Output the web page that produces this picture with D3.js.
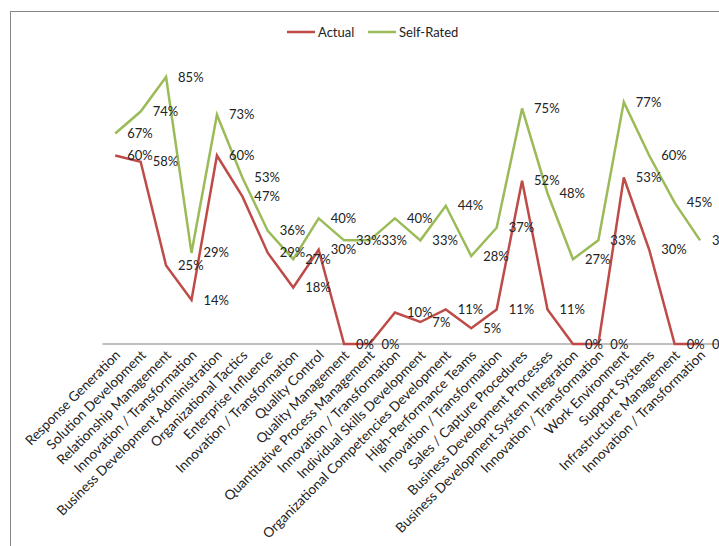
<!DOCTYPE html>
<html>
<head>
<meta charset="utf-8">
<script src="https://cdn.jsdelivr.net/npm/d3@7"></script>
<style>
  body { margin: 0; background: #fff; }
  svg { display: block; font-family: Lato, "Noto Sans", sans-serif; }
</style>
</head>
<body>
<script>
var categories = [
  "Response Generation", "Solution Development", "Relationship Management",
  "Innovation / Transformation", "Business Development Administration",
  "Organizational Tactics", "Enterprise Influence", "Innovation / Transformation",
  "Quality Control", "Quality Management", "Quantitative Process Management",
  "Innovation / Transformation", "Individual Skills Development",
  "Organizational Competencies Development", "High-Performance Teams",
  "Innovation / Transformation", "Sales / Capture Procedures",
  "Business Development Processes", "Business Development System Integration",
  "Innovation / Transformation", "Work Environment", "Support Systems",
  "Infrastructure Management", "Innovation / Transformation"
];
var actual = [60, 58, 25, 14, 60, 47, 29, 18, 30, 0, 0, 10, 7, 11, 5, 11, 52, 11, 0, 0, 53, 30, 0, 0];
var selfRated = [67, 74, 85, 29, 73, 53, 36, 27, 40, 33, 33, 40, 33, 44, 28, 37, 75, 48, 27, 33, 77, 60, 45, 33];
var seriesNames = ["Actual", "Self-Rated"];
var seriesColors = ["#be4b48", "#9bbb59"];

var width = 719, height = 546;

var svg = d3.select("body").append("svg")
    .attr("width", width)
    .attr("height", height);

// chart frame (runs off the right and bottom edges)
svg.append("rect")
    .attr("x", 10.5).attr("y", 11.5)
    .attr("width", 730).attr("height", 560)
    .attr("fill", "none")
    .attr("stroke", "#868686");

var idx = categories.map(function(d, i) { return i; });

var x = d3.scaleBand()
    .domain(idx)
    .range([102.5, 712.8]);

var y = d3.scaleLinear()
    .domain([0, 85])
    .range([344, 77]);

var cx = function(i) { return x(i) + x.bandwidth() / 2; };

// category axis
var xAxis = d3.axisBottom(x)
    .tickSize(0)
    .tickFormat(function(i) { return categories[i]; });

var gx = svg.append("g")
    .attr("transform", "translate(0,344)")
    .call(xAxis);
gx.select(".domain")
    .attr("d", "M102.5,0H719")
    .attr("stroke", "#bfbfbf")
    .attr("stroke-width", 2);
gx.selectAll("text")
    .attr("font-family", "Lato, 'Noto Sans', sans-serif")
    .attr("font-size", 13.6)
    .attr("fill", "#222")
    .attr("text-anchor", "end")
    .attr("dy", null)
    .attr("y", 0)
    .attr("transform", "translate(6,12) rotate(-45)");

var series = [actual, selfRated];

var line = d3.line()
    .x(function(d, i) { return cx(i); })
    .y(function(d) { return y(d); });

series.forEach(function(vals, s) {
  svg.append("path")
      .datum(vals)
      .attr("fill", "none")
      .attr("stroke", seriesColors[s])
      .attr("stroke-width", 2.5)
      .attr("stroke-linejoin", "miter")
      .attr("d", line);
});

series.forEach(function(vals, s) {
  svg.append("g").selectAll("text")
      .data(vals)
      .join("text")
      .attr("x", function(d, i) { return cx(i) + 12; })
      .attr("y", function(d) { return y(d); })
      .attr("dy", "0.35em")
      .attr("font-size", 13)
      .attr("fill", "#222")
      .text(function(d) { return d + "%"; });
});

// legend
var legend = svg.append("g").attr("transform", "translate(287,32)");
var legendX = [0, 81];
seriesNames.forEach(function(name, s) {
  var g = legend.append("g").attr("transform", "translate(" + legendX[s] + ",0)");
  g.append("line")
      .attr("x1", 0).attr("x2", 28)
      .attr("stroke", seriesColors[s])
      .attr("stroke-width", 2.5);
  g.append("text")
      .attr("x", 31)
      .attr("dy", "0.35em")
      .attr("font-size", 13)
      .attr("fill", "#222")
      .text(name);
});
</script>
</body>
</html>
